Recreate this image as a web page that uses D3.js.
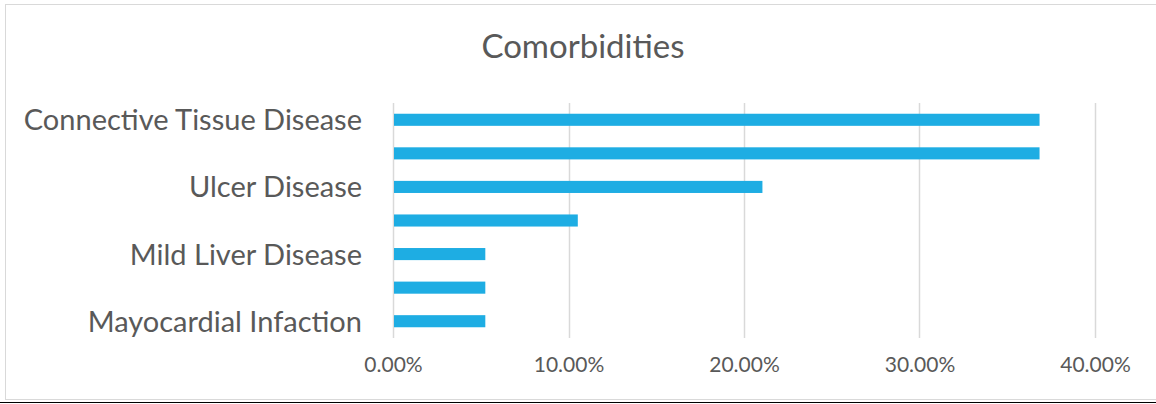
<!DOCTYPE html>
<html>
<head>
<meta charset="utf-8">
<script src="https://cdn.jsdelivr.net/npm/d3@7"></script>
<style>
  body { margin: 0; background: #fff; }
  text { font-family: Lato, "Open Sans", sans-serif; fill: #595959; }
</style>
</head>
<body>
<svg id="chart" width="1156" height="404"></svg>
<script>
// category order is bottom -> top, like the spreadsheet it came from
var categories = ["Mayocardial Infaction", "", "Mild Liver Disease", "", "Ulcer Disease", "", "Connective Tissue Disease"];
var values = [0.0526, 0.0526, 0.0526, 0.1053, 0.2105, 0.3684, 0.3684];
var xTicks = [0, 0.1, 0.2, 0.3, 0.4];
var title = "Comorbidities";

var svg = d3.select("#chart");

// frame
svg.append("rect")
    .attr("x", 5.5).attr("y", 4.5)
    .attr("width", 1160).attr("height", 395)
    .attr("fill", "#fff")
    .attr("stroke", "#d9d9d9");
svg.append("line")
    .attr("x1", 0).attr("x2", 1156)
    .attr("y1", 402.5).attr("y2", 402.5)
    .attr("stroke", "#000");

var plotL = 393, plotR = 1095, plotT = 103, plotB = 338;

var x = d3.scaleLinear().domain([0, 0.4]).range([plotL, plotR]);
var idx = d3.range(categories.length);
var y = d3.scaleBand()
    .domain(idx.slice().reverse())
    .range([plotT, plotB])
    .paddingInner(0.64)
    .paddingOuter(0.32);

// gridlines
svg.append("g")
    .selectAll("line")
    .data(xTicks)
    .enter()
    .append("line")
    .attr("x1", function(d) { return Math.round(x(d)) + 0.5; })
    .attr("x2", function(d) { return Math.round(x(d)) + 0.5; })
    .attr("y1", plotT)
    .attr("y2", plotB)
    .attr("stroke", "#d9d9d9")
    .attr("stroke-width", 1.5);

// bars
svg.append("g")
    .selectAll("rect")
    .data(values)
    .enter()
    .append("rect")
    .attr("x", x(0) + 1)
    .attr("y", function(d, i) { return y(i); })
    .attr("width", function(d) { return x(d) - x(0) - 1; })
    .attr("height", y.bandwidth())
    .attr("fill", "#1eade3");

// x axis labels
var xAxis = d3.axisBottom(x)
    .tickValues(xTicks)
    .tickSize(0)
    .tickPadding(0)
    .tickFormat(d3.format(".2%"));
var gx = svg.append("g")
    .attr("transform", "translate(0," + 357 + ")")
    .call(xAxis);
gx.select(".domain").remove();
gx.selectAll("text")
    .attr("dy", "0.71em")
    .style("font-size", "21px")
    .attr("fill", "#595959");

// y labels, only the ones that have a name
var yAxis = d3.axisLeft(y)
    .tickSize(0)
    .tickPadding(31)
    .tickFormat(function(i) { return categories[i]; });
var gy = svg.append("g")
    .attr("transform", "translate(" + plotL + ",0)")
    .call(yAxis);
gy.select(".domain").remove();
gy.selectAll("text")
    .attr("dy", "0.36em")
    .style("font-size", "29px")
    .attr("fill", "#595959");

svg.append("text")
    .attr("x", 583)
    .attr("y", 58)
    .attr("text-anchor", "middle")
    .style("font-size", "33px")
    .text(title);
</script>
</body>
</html>
